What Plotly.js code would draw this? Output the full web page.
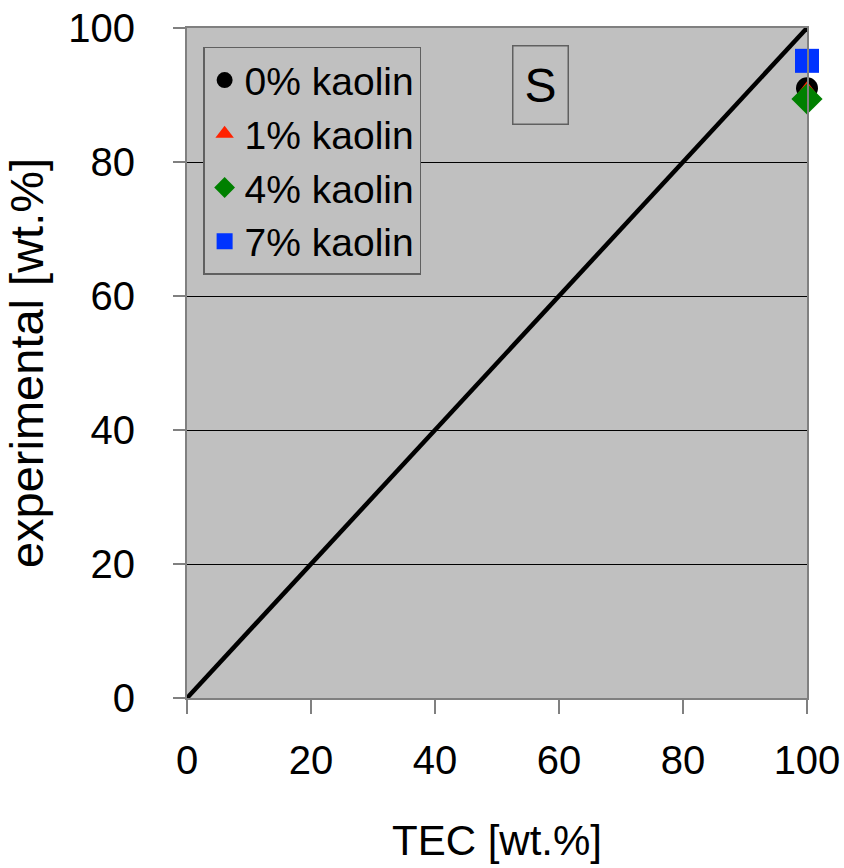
<!DOCTYPE html>
<html>
<head>
<meta charset="utf-8">
<script src="https://cdn.plot.ly/plotly-3.0.1.min.js"></script>
<style>html,body{margin:0;padding:0;background:#fff;}#chart{width:844px;height:868px;}</style>
</head>
<body>
<div id="chart"></div>
<script>
// Parity line
const lineX = [0, 100];
const lineY = [0, 100];
// Series (TEC vs experimental)
const seriesNames = ["0% kaolin", "1% kaolin", "4% kaolin", "7% kaolin"];
const tecValues = [[100], [100], [100], [100]];
const expValues = [[91.0], [90.4], [89.4], [95.1]];
const tickVals = [0, 20, 40, 60, 80, 100];
const tickText = ["0", "20", "40", "60", "80", "100"];

const symbols = ["circle", "triangle-up", "diamond", "square"];
const colors = ["#000000", "#ff2200", "#008000", "#0033ff"];
const sizes = [22, 22, 24, 24];

const traces = [{
  x: lineX, y: lineY, mode: "lines", type: "scatter",
  line: {color: "#000000", width: 4.5}, showlegend: false, hoverinfo: "skip"
}];
seriesNames.forEach((n, i) => {
  traces.push({
    x: tecValues[i], y: expValues[i], name: n, mode: "markers", type: "scatter",
    cliponaxis: false,
    marker: {symbol: symbols[i], color: colors[i], size: sizes[i], line: {width: 0}}
  });
});

const font = "Liberation Sans, Arial, sans-serif";
const layout = {
  width: 844, height: 868,
  margin: {l: 187, r: 37, t: 28, b: 170},
  paper_bgcolor: "#ffffff",
  plot_bgcolor: "#c0c0c0",
  font: {family: font, color: "#000000", size: 40},
  showlegend: true,
  legend: {
    x: 0.026, y: 0.972, xanchor: "left", yanchor: "top",
    bgcolor: "#c0c0c0", bordercolor: "#606060", borderwidth: 1.5,
    font: {family: font, size: 39, color: "#000"},
    traceorder: "normal", itemsizing: "trace", itemwidth: 30
  },
  xaxis: {
    range: [0, 100], tickvals: tickVals, ticktext: tickText,
    showgrid: false, zeroline: false,
    showline: true, linecolor: "#808080", linewidth: 2, mirror: true,
    ticks: "outside", ticklen: 14, tickcolor: "#808080", tickwidth: 1.5,
    ticklabelstandoff: 12,
    tickfont: {family: font, size: 40},
    title: {text: "TEC [wt.%]", font: {family: font, size: 42}, standoff: 45},
    fixedrange: true
  },
  yaxis: {
    range: [0, 100], tickvals: tickVals, ticktext: tickText,
    showgrid: true, gridcolor: "#000000", gridwidth: 1, zeroline: false,
    showline: true, linecolor: "#808080", linewidth: 2, mirror: true,
    ticks: "outside", ticklen: 12, tickcolor: "#808080", tickwidth: 1.5,
    ticklabelstandoff: 30,
    tickfont: {family: font, size: 40},
    title: {text: "experimental [wt.%]", font: {family: font, size: 47}, standoff: 10},
    fixedrange: true
  },
  annotations: [{
    xref: "paper", yref: "paper", x: (540 - 187) / 620, y: (698 - 85) / 670,
    xanchor: "center", yanchor: "middle", showarrow: false,
    text: "S", font: {family: font, size: 48, color: "#000"},
    bordercolor: "#606060", borderwidth: 1.5, bgcolor: "#c0c0c0",
    width: 54, height: 77, borderpad: 0
  }]
};
Plotly.newPlot("chart", traces, layout, {displayModeBar: false, staticPlot: true});
</script>
</body>
</html>
